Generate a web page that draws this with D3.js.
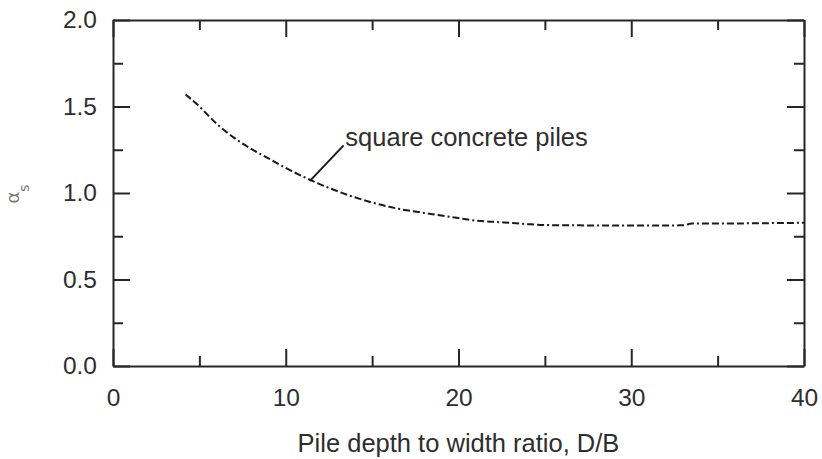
<!DOCTYPE html>
<html>
<head>
<meta charset="utf-8">
<script src="https://cdn.jsdelivr.net/npm/d3@7"></script>
<style>
  html, body { margin: 0; padding: 0; background: #fff; }
  svg { display: block; }
  .tick text { font-family: "Liberation Sans", Arial, sans-serif; font-size: 24.5px; fill: #2e2e2e; }
  .domain, .tick line { stroke: #262626; stroke-width: 2px; }
</style>
</head>
<body>
<svg id="chart" width="822" height="459"></svg>
<script>
// Side-resistance factor for square concrete piles vs. pile slenderness
const depthRatio = [4.2, 5, 6, 7, 8, 9, 10, 11, 12, 13, 14, 15, 16, 17, 18, 19, 20,
                    21, 22, 23, 24, 25, 27, 30, 33, 33.5, 36, 40];
const alphaS     = [1.57, 1.50, 1.40, 1.32, 1.255, 1.20, 1.145, 1.095, 1.05, 1.01, 0.975,
                    0.945, 0.92, 0.90, 0.885, 0.87, 0.855, 0.84, 0.834, 0.827, 0.82, 0.815,
                    0.813, 0.812, 0.813, 0.823, 0.824, 0.828];

const xMajorTicks = [0, 10, 20, 30, 40];
const xMinorTicks = [5, 15, 25, 35];
const yMajorTicks = [0.0, 0.5, 1.0, 1.5, 2.0];
const yMinorTicks = [0.25, 0.75, 1.25, 1.75];

const curveLabel = "square concrete piles";
const xTitle = "Pile depth to width ratio, D/B";

// annotation: leader from the curve to the label
const leaderFrom = [11.4, 1.07];
const leaderTo   = [13.35, 1.275];
const labelAt    = [13.45, 1.27];

const svg = d3.select("#chart");
const margin = { left: 113, right: 18, top: 20, bottom: 93 };
const W = 822, H = 459;

const x = d3.scaleLinear().domain([0, 40]).range([margin.left, W - margin.right]);
const y = d3.scaleLinear().domain([0, 2]).range([H - margin.bottom, margin.top]);

const major = 17, minor = 10;

// bottom axis (labels + inward ticks)
svg.append("g")
  .attr("transform", `translate(0,${y(0)})`)
  .call(d3.axisBottom(x).tickValues(xMajorTicks).tickFormat(d3.format("d"))
        .tickSizeInner(-major).tickSizeOuter(0).tickPadding(major + 6));
svg.append("g")
  .attr("transform", `translate(0,${y(0)})`)
  .call(d3.axisBottom(x).tickValues(xMinorTicks).tickFormat("")
        .tickSizeInner(-minor).tickSizeOuter(0))
  .call(g => g.select(".domain").remove());

// top axis (ticks only)
svg.append("g")
  .attr("transform", `translate(0,${y(2)})`)
  .call(d3.axisTop(x).tickValues(xMajorTicks).tickFormat("")
        .tickSizeInner(-major).tickSizeOuter(0));
svg.append("g")
  .attr("transform", `translate(0,${y(2)})`)
  .call(d3.axisTop(x).tickValues(xMinorTicks).tickFormat("")
        .tickSizeInner(-minor).tickSizeOuter(0))
  .call(g => g.select(".domain").remove());

// left axis
svg.append("g")
  .attr("transform", `translate(${x(0)},0)`)
  .call(d3.axisLeft(y).tickValues(yMajorTicks).tickFormat(d3.format(".1f"))
        .tickSizeInner(-major).tickSizeOuter(0).tickPadding(major - 1));
svg.append("g")
  .attr("transform", `translate(${x(0)},0)`)
  .call(d3.axisLeft(y).tickValues(yMinorTicks).tickFormat("")
        .tickSizeInner(-minor).tickSizeOuter(0))
  .call(g => g.select(".domain").remove());

// right axis
svg.append("g")
  .attr("transform", `translate(${x(40)},0)`)
  .call(d3.axisRight(y).tickValues(yMajorTicks).tickFormat("")
        .tickSizeInner(-major).tickSizeOuter(0));
svg.append("g")
  .attr("transform", `translate(${x(40)},0)`)
  .call(d3.axisRight(y).tickValues(yMinorTicks).tickFormat("")
        .tickSizeInner(-minor).tickSizeOuter(0))
  .call(g => g.select(".domain").remove());

// dashed curve
const pts = depthRatio.map((d, i) => [d, alphaS[i]]);
svg.append("path")
  .datum(pts)
  .attr("fill", "none")
  .attr("stroke", "#1a1a1a")
  .attr("stroke-width", 2)
  .attr("stroke-dasharray", "7,3,7,3,2,3")
  .attr("d", d3.line().x(d => x(d[0])).y(d => y(d[1])).curve(d3.curveMonotoneX));

// leader line and label
svg.append("line")
  .attr("x1", x(leaderFrom[0])).attr("y1", y(leaderFrom[1]))
  .attr("x2", x(leaderTo[0])).attr("y2", y(leaderTo[1]))
  .attr("stroke", "#1a1a1a").attr("stroke-width", 2);
svg.append("text")
  .attr("x", x(labelAt[0])).attr("y", y(labelAt[1]))
  .attr("font-family", "Liberation Sans, Arial, sans-serif")
  .attr("font-size", 25.5).attr("fill", "#2e2e2e")
  .text(curveLabel);

// x-axis title, centred under the plot
svg.append("text")
  .attr("x", (x(0) + x(40)) / 2).attr("y", 452)
  .attr("text-anchor", "middle")
  .attr("font-family", "Liberation Sans, Arial, sans-serif")
  .attr("font-size", 25.5).attr("fill", "#2e2e2e")
  .text(xTitle);

// y-axis title: alpha with subscript s
const yt = svg.append("text")
  .attr("transform", `translate(19,194) rotate(-90)`)
  .attr("text-anchor", "middle")
  .attr("font-family", "DejaVu Sans, sans-serif")
  .attr("fill", "#777");
yt.append("tspan").attr("font-size", 18).text("α");
yt.append("tspan").attr("font-size", 14).attr("dy", 10).text("s");
</script>
</body>
</html>
